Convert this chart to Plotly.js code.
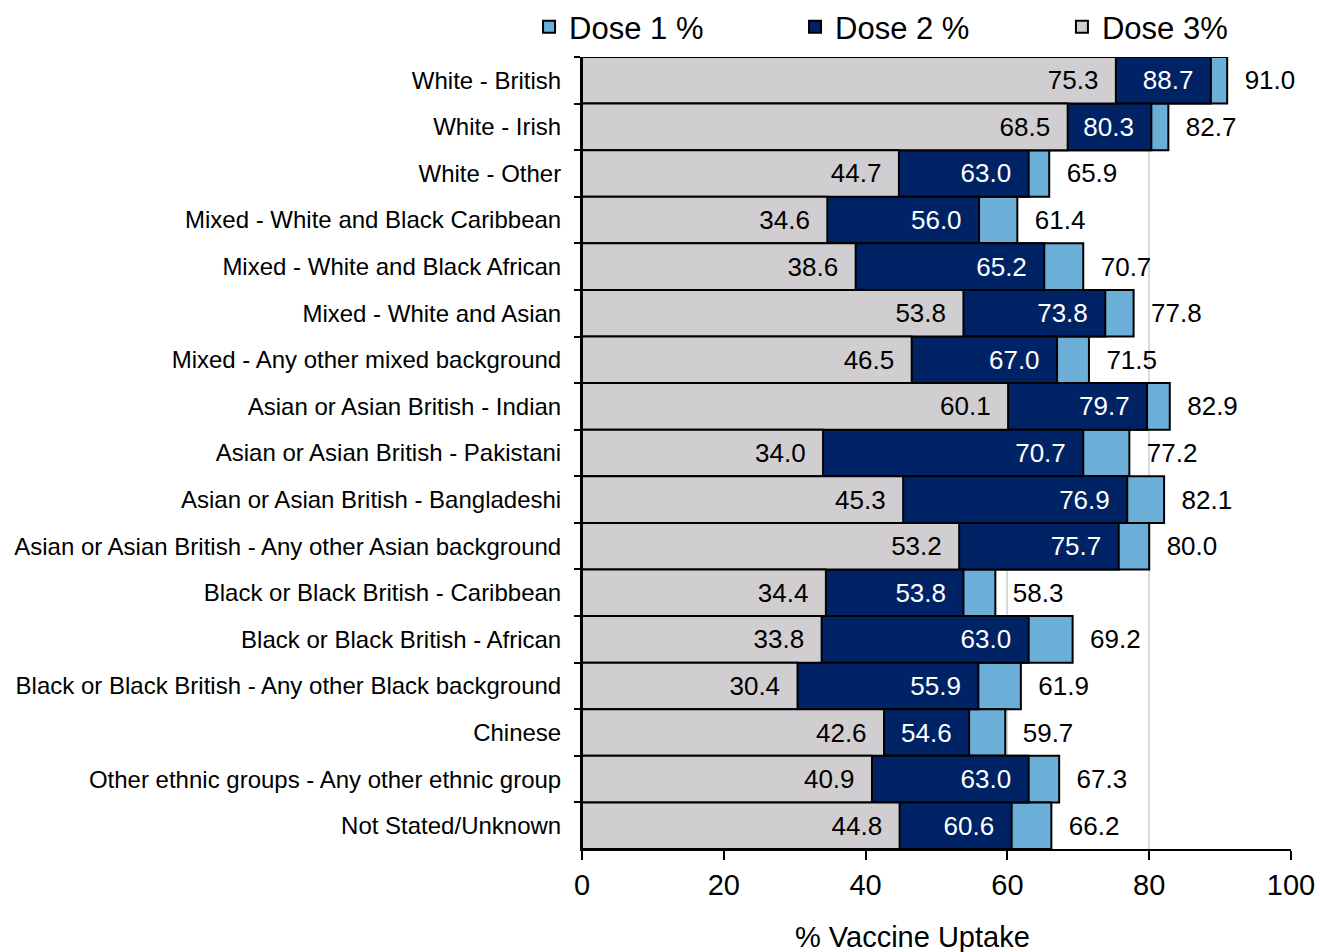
<!DOCTYPE html>
<html>
<head>
<meta charset="utf-8">
<script src="https://cdn.plot.ly/plotly-3.0.1.min.js"></script>
<style>html,body{margin:0;padding:0;background:#fff;}#chart{width:1320px;height:952px;}</style>
</head>
<body>
<div id="chart"></div>
<script>
const categories = [
  "White - British",
  "White - Irish",
  "White - Other",
  "Mixed - White and Black Caribbean",
  "Mixed - White and Black African",
  "Mixed - White and Asian",
  "Mixed - Any other mixed background",
  "Asian or Asian British - Indian",
  "Asian or Asian British - Pakistani",
  "Asian or Asian British - Bangladeshi",
  "Asian or Asian British - Any other Asian background",
  "Black or Black British - Caribbean",
  "Black or Black British - African",
  "Black or Black British - Any other Black background",
  "Chinese",
  "Other ethnic groups - Any other ethnic group",
  "Not Stated/Unknown"
];
const dose1 = [91.0, 82.7, 65.9, 61.4, 70.7, 77.8, 71.5, 82.9, 77.2, 82.1, 80.0, 58.3, 69.2, 61.9, 59.7, 67.3, 66.2];
const dose2 = [88.7, 80.3, 63.0, 56.0, 65.2, 73.8, 67.0, 79.7, 70.7, 76.9, 75.7, 53.8, 63.0, 55.9, 54.6, 63.0, 60.6];
const dose3 = [75.3, 68.5, 44.7, 34.6, 38.6, 53.8, 46.5, 60.1, 34.0, 45.3, 53.2, 34.4, 33.8, 30.4, 42.6, 40.9, 44.8];
const seriesNames = ["Dose 1 %", "Dose 2 %", "Dose 3%"];
const xTitle = "% Vaccine Uptake";

const NB = "\u00a0\u00a0";
const outsideText = a => a.map(v => NB + v.toFixed(1));
const insideText = a => a.map(v => v.toFixed(1) + NB);
const font = "Liberation Sans, Arial, sans-serif";

const traces = [
  {
    type: "bar", orientation: "h", name: seriesNames[0], legend: "legend",
    y: categories, x: dose1,
    marker: {color: "#6BAED8", line: {color: "#000", width: 2}},
    text: outsideText(dose1), textposition: "outside", cliponaxis: false,
    constraintext: "none",
    outsidetextfont: {family: font, size: 26, color: "#000"},
    hoverinfo: "x+y"
  },
  {
    type: "bar", orientation: "h", name: seriesNames[1], legend: "legend2",
    y: categories, x: dose2,
    marker: {color: "#002366", line: {color: "#000", width: 2}},
    text: insideText(dose2), textposition: "inside", insidetextanchor: "end",
    constraintext: "none",
    insidetextfont: {family: font, size: 26, color: "#fff"},
    hoverinfo: "x+y"
  },
  {
    type: "bar", orientation: "h", name: seriesNames[2], legend: "legend3",
    y: categories, x: dose3,
    marker: {color: "#D0CED0", line: {color: "#000", width: 2}},
    text: insideText(dose3), textposition: "inside", insidetextanchor: "end",
    constraintext: "none",
    insidetextfont: {family: font, size: 26, color: "#000"},
    hoverinfo: "x+y"
  }
];

const legendBase = x => ({
  orientation: "h",
  xref: "container", yref: "container",
  x: x, xanchor: "left", y: 1.0, yanchor: "top",
  font: {family: font, size: 31, color: "#000"},
  itemwidth: 30,
  bgcolor: "rgba(0,0,0,0)"
});

const layout = {
  width: 1320, height: 952,
  margin: {l: 582, r: 29, t: 57, b: 103, autoexpand: false},
  barmode: "overlay",
  bargap: 0,
  paper_bgcolor: "#fff",
  plot_bgcolor: "#fff",
  font: {family: font, color: "#000"},
  showlegend: true,
  legend: legendBase(0.4008),
  legend2: legendBase(0.6023),
  legend3: legendBase(0.8045),
  annotations: [{
    text: xTitle, xref: "paper", yref: "paper",
    x: 0.4668, y: -0.111, xanchor: "center", yanchor: "middle",
    showarrow: false,
    font: {family: font, size: 29, color: "#000"}
  }],
  xaxis: {
    range: [0, 100], dtick: 20, tick0: 0,
    showgrid: true, gridcolor: "#D9D9D9", gridwidth: 2,
    zeroline: false,
    showline: true, linecolor: "#000", linewidth: 2,
    ticks: "outside", ticklen: 9, tickwidth: 2, tickcolor: "#000",
    tickfont: {family: font, size: 29, color: "#000"},
    fixedrange: true
  },
  yaxis: {
    type: "category",
    autorange: "reversed",
    showline: true, linecolor: "#000", linewidth: 2,
    ticks: "outside", ticklen: 6, tickwidth: 2, tickcolor: "#000",
    tickson: "boundaries",
    ticklabelstandoff: 14,
    tickfont: {family: font, size: 24, color: "#000"},
    showgrid: false,
    fixedrange: true
  }
};

Plotly.newPlot("chart", traces, layout, {displayModeBar: false, staticPlot: true});
</script>
</body>
</html>
